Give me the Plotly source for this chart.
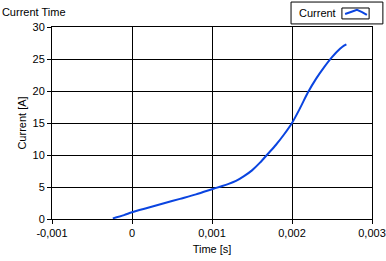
import plotly.graph_objects as go

time_s = [-0.00024, -0.0001, 0.0, 0.0002, 0.0004, 0.0006, 0.0008, 0.001, 0.0011, 0.0012,
          0.0013, 0.0014, 0.0015, 0.0016, 0.0017, 0.0018, 0.0019, 0.002, 0.0021, 0.0022,
          0.0023, 0.0024, 0.0025, 0.0026, 0.00265, 0.00268]
current_a = [0.1, 0.6, 1.05, 1.75, 2.45, 3.15, 3.85, 4.65, 5.05, 5.45,
             5.95, 6.7, 7.6, 8.8, 10.2, 11.6, 13.2, 15.0, 17.3, 19.8,
             21.9, 23.7, 25.3, 26.6, 27.1, 27.3]

x_ticks = [-0.001, 0.0, 0.001, 0.002, 0.003]
x_tick_labels = ["-0,001", "0", "0,001", "0,002", "0,003"]
y_ticks = [0, 5, 10, 15, 20, 25, 30]
series_name = "Current"

FONT = "Liberation Sans"
LINE_COLOR = "#0a44e0"

fig = go.Figure()
fig.add_trace(go.Scatter(
    x=time_s, y=current_a, mode="lines", name=series_name,
    line=dict(color=LINE_COLOR, width=2, shape="spline", smoothing=0.8),
    showlegend=False,
))

# Legend drawn as box (text first, then sample in small box), like the reference
fig.add_shape(type="rect", xref="paper", yref="paper",
              x0=0.747, x1=1.034, y0=1.016, y1=1.130,
              line=dict(color="black", width=1), fillcolor="white", layer="above")
fig.add_shape(type="rect", xref="paper", yref="paper",
              x0=0.906, x1=0.991, y0=1.042, y1=1.099,
              line=dict(color="black", width=1), fillcolor="white", layer="above")
fig.add_shape(type="path", xref="paper", yref="paper",
              path="M 0.916 1.068 L 0.934 1.078 L 0.953 1.089 L 0.969 1.078 L 0.984 1.063",
              line=dict(color=LINE_COLOR, width=2), layer="above")
fig.add_annotation(text=series_name, xref="paper", yref="paper",
                   x=0.766, y=1.073, xanchor="left", yanchor="middle",
                   showarrow=False, font=dict(family=FONT, size=11, color="black"))

fig.update_layout(
    width=386, height=261,
    margin=dict(l=52, r=14, t=27, b=42, autoexpand=False),
    paper_bgcolor="white", plot_bgcolor="white",
    font=dict(family=FONT, size=11, color="#000000"),
    title=dict(text="Current Time", x=0.005, xanchor="left", y=0.955, yanchor="middle",
               font=dict(family=FONT, size=11, color="#000000")),
    showlegend=False,
)

fig.update_xaxes(
    range=[-0.001, 0.003], tickvals=x_ticks, ticktext=x_tick_labels,
    showgrid=True, gridcolor="black", gridwidth=1,
    showline=True, linecolor="black", linewidth=1, mirror=True,
    ticks="outside", ticklen=4, tickcolor="black",
    zeroline=False,
    title=dict(text="Time [s]", standoff=7, font=dict(family=FONT, size=11)),
)
fig.update_yaxes(
    range=[0, 30], tickvals=y_ticks,
    showgrid=True, gridcolor="black", gridwidth=1,
    showline=True, linecolor="black", linewidth=1, mirror=True,
    ticks="outside", ticklen=4, tickcolor="black",
    zeroline=False,
    title=dict(text="Current [A]", standoff=3, font=dict(family=FONT, size=11)),
)

fig.write_html("out.html")
